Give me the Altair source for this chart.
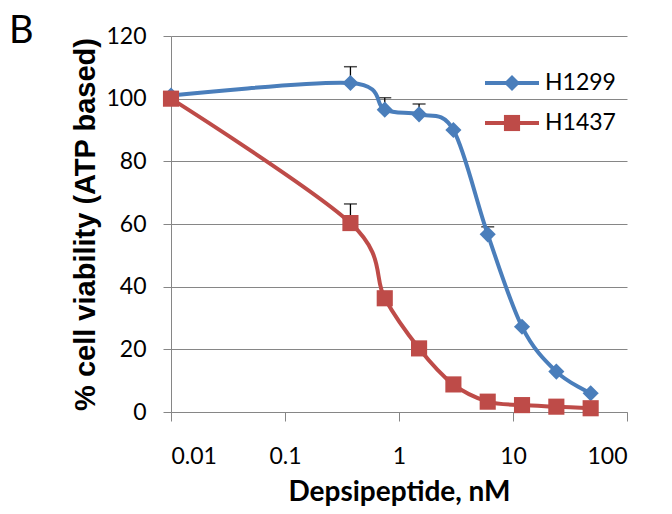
import altair as alt
import pandas as pd

conc = [0.01, 0.375, 0.75, 1.5, 3, 6, 12, 24, 48]
h1299 = [101, 105, 96.5, 95, 90, 56.7, 27.2, 12.9, 6.0]
h1437 = [100, 60.3, 36.3, 20.3, 8.8, 3.3, 2.2, 1.7, 1.2]
series = ["H1299", "H1437"]
colors = ["#4A7EBB", "#BE4B48"]
shapes = ["diamond", "square"]

err_conc = [0.375, 0.75, 1.5, 6, 0.375]
err_series = ["H1299", "H1299", "H1299", "H1299", "H1437"]
err_low = [105, 96.5, 95, 56.7, 60.3]
err_high = [110.2, 100.3, 98.3, 59.1, 66.4]

x_ticks = [0.01, 0.1, 1, 10, 100]
y_ticks = [0, 20, 40, 60, 80, 100, 120]

FONT = "Lato"
TFONT = "Liberation Sans"
GRAY = "#868686"

df = pd.DataFrame({
    "conc": conc * 2,
    "val": h1299 + h1437,
    "series": ["H1299"] * len(conc) + ["H1437"] * len(conc),
})
edf = pd.DataFrame({"conc": err_conc, "lo": err_low, "hi": err_high, "series": err_series})

xs = alt.Scale(type="log", domain=[0.01, 100])
ys = alt.Scale(domain=[0, 120])

X = alt.X("conc:Q", scale=xs, axis=alt.Axis(
    values=x_ticks, labelExpr="'' + datum.value", grid=False,
    domainColor=GRAY, tickColor=GRAY, tickSize=9, labelPadding=24,
    labelFontSize=23, labelFont=FONT, labelColor="black",
    title="Depsipeptide, nM", titleFont=FONT, titleFontSize=28, titleFontWeight="bold",
    titleColor="black", titleY=88, titleAlign="center", titleBaseline="alphabetic"))
Y = alt.Y("val:Q", scale=ys, axis=alt.Axis(
    values=y_ticks, grid=True, gridColor=GRAY, domainColor=GRAY, tickColor=GRAY,
    tickSize=8, labelPadding=17, labelFontSize=23, labelFont=FONT, labelColor="black",
    title="% cell viability (ATP based)", titleFont=TFONT, titleFontSize=29,
    titleFontWeight="bold", titleColor="black", titlePadding=5))

color = alt.Color("series:N", scale=alt.Scale(domain=series, range=colors), legend=None)
shape = alt.Shape("series:N", scale=alt.Scale(domain=series, range=shapes), legend=None)

base = alt.Chart(df)
err_rule = alt.Chart(edf).mark_rule(color="black", strokeWidth=1.3).encode(
    x=alt.X("conc:Q", scale=xs), y=alt.Y("lo:Q", scale=ys), y2="hi:Q")
err_cap = alt.Chart(edf).mark_tick(color="black", orient="horizontal", size=13, thickness=1.5).encode(
    x=alt.X("conc:Q", scale=xs), y=alt.Y("hi:Q", scale=ys))
lines = base.mark_line(strokeWidth=4, interpolate="cardinal").encode(x=X, y=Y, color=color)
points = base.mark_point(filled=True, opacity=1, size=260).encode(
    x=alt.X("conc:Q", scale=xs), y=alt.Y("val:Q", scale=ys), color=color, shape=shape)

one = pd.DataFrame({"a": [0]})
legend_layers = []
for i, (name, col, shp) in enumerate(zip(series, colors, shapes)):
    yy = 47 + 40 * i
    legend_layers.append(alt.Chart(one).mark_rule(color=col, strokeWidth=4).encode(
        x=alt.value(314), x2=alt.value(368), y=alt.value(yy)))
    legend_layers.append(alt.Chart(one).mark_point(filled=True, opacity=1, color=col, shape=shp, size=260).encode(
        x=alt.value(341), y=alt.value(yy)))
    legend_layers.append(alt.Chart(one).mark_text(text=name, align="left", baseline="middle",
        font=FONT, fontSize=23, color="black").encode(x=alt.value(374), y=alt.value(yy)))

label_b = alt.Chart(one).mark_text(text="B", align="left", baseline="alphabetic",
    font=FONT, fontSize=38, color="black").encode(x=alt.value(-162), y=alt.value(7))

chart = alt.layer(err_rule, err_cap, lines, points, *legend_layers, label_b).properties(
    width=456, height=376,
    autosize=alt.AutoSizeParams(type="none"),
    padding={"left": 163, "top": 28, "right": 30, "bottom": 94},
).configure_view(stroke=None)

chart.save("out.html", embed_options={"renderer": "svg", "actions": False})
